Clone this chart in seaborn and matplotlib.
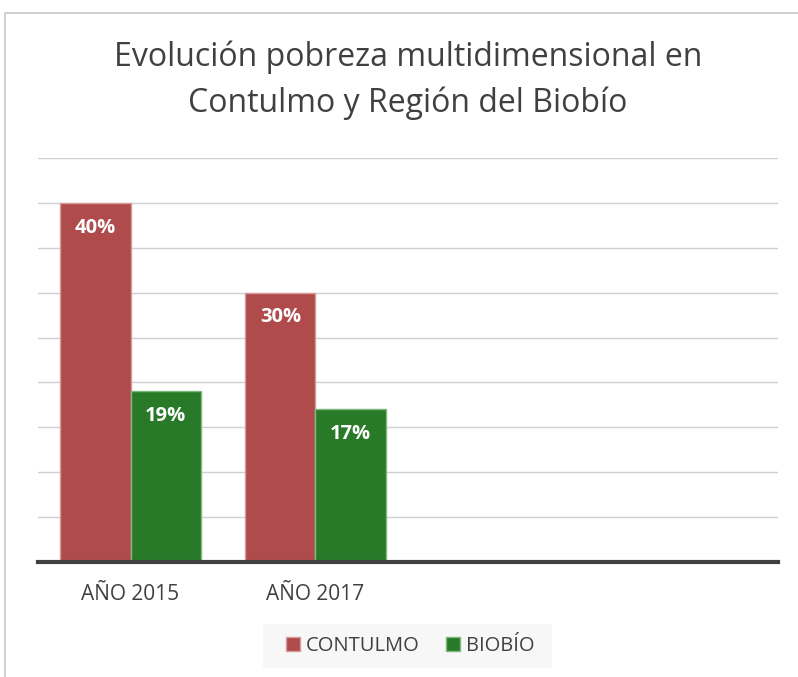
import pandas as pd
import matplotlib.pyplot as plt
import seaborn as sns
from matplotlib.patches import Rectangle

# data
years = ['AÑO 2015', 'AÑO 2017']
contulmo = [40, 30]
biobio = [19, 17]
series = ['CONTULMO', 'BIOBÍO']

df = pd.DataFrame({
    'Año': years * 2,
    'Serie': [series[0]] * len(years) + [series[1]] * len(years),
    'Pobreza': contulmo + biobio,
})

sns.set_style('white')
plt.rcParams['font.family'] = ['Open Sans', 'DejaVu Sans']

colors = ['#b04b4b', '#287a28']
edges = ['#d89a9a', '#7fb87f']

fig = plt.figure(figsize=(7.98, 6.77), dpi=100)
ax = fig.add_axes([38 / 798, 1 - 562 / 677, 740 / 798, 404 / 677])

sns.barplot(data=df, x='Año', y='Pobreza', hue='Serie', order=years,
            palette=colors, saturation=1, width=0.757, ax=ax, legend=False)

for i, container in enumerate(ax.containers):
    for bar in container:
        bar.set_edgecolor(edges[i])
        bar.set_linewidth(1)
    ax.bar_label(container, labels=[f'{v:.0f}%' for v in container.datavalues],
                 label_type='edge', padding=-25, color='white',
                 fontsize=14.5, fontweight='bold')

ax.set_xlim(-0.5, 3.5)
ax.set_ylim(0, 45)
ax.set_yticks(range(0, 46, 5))
ax.yaxis.grid(True, color='#d0d0d0', linewidth=1)
ax.set_axisbelow(True)
ax.tick_params(axis='y', left=False, labelleft=False)
ax.tick_params(axis='x', bottom=False, labelsize=15, labelcolor='#404040', pad=12)
for s in ['top', 'right', 'left']:
    ax.spines[s].set_visible(False)
ax.spines['bottom'].set_color('#404040')
ax.spines['bottom'].set_linewidth(3)
ax.set_xlabel('')
ax.set_ylabel('')

fig.text(408 / 798, 1 - 57 / 677, 'Evolución pobreza multidimensional en',
         ha='center', va='center', fontsize=23, color='#404040')
fig.text(408 / 798, 1 - 103 / 677, 'Contulmo y Región del Biobío',
         ha='center', va='center', fontsize=23, color='#404040')

# outer chart frame
fig.add_artist(Rectangle((5 / 798, -0.02), 1.0, 1 - 13 / 677 + 0.02,
                         transform=fig.transFigure, fill=False,
                         edgecolor='#c8c8c8', linewidth=1.2))

# legend with light background box
fig.add_artist(Rectangle((263 / 798, 1 - 668 / 677), 289 / 798, 44 / 677,
                         transform=fig.transFigure, facecolor='#f7f7f7',
                         edgecolor='none'))
handles = [Rectangle((0, 0), 1, 1, facecolor=c, edgecolor=e)
           for c, e in zip(colors, edges)]
fig.legend(handles, series, loc='center', bbox_to_anchor=(410 / 798, 1 - 646 / 677),
           ncol=2, frameon=False, fontsize=14.5, handlelength=0.7, handleheight=0.7,
           handletextpad=0.3, columnspacing=1.3, labelcolor='#404040')

plt.savefig('out.png', dpi=100)
